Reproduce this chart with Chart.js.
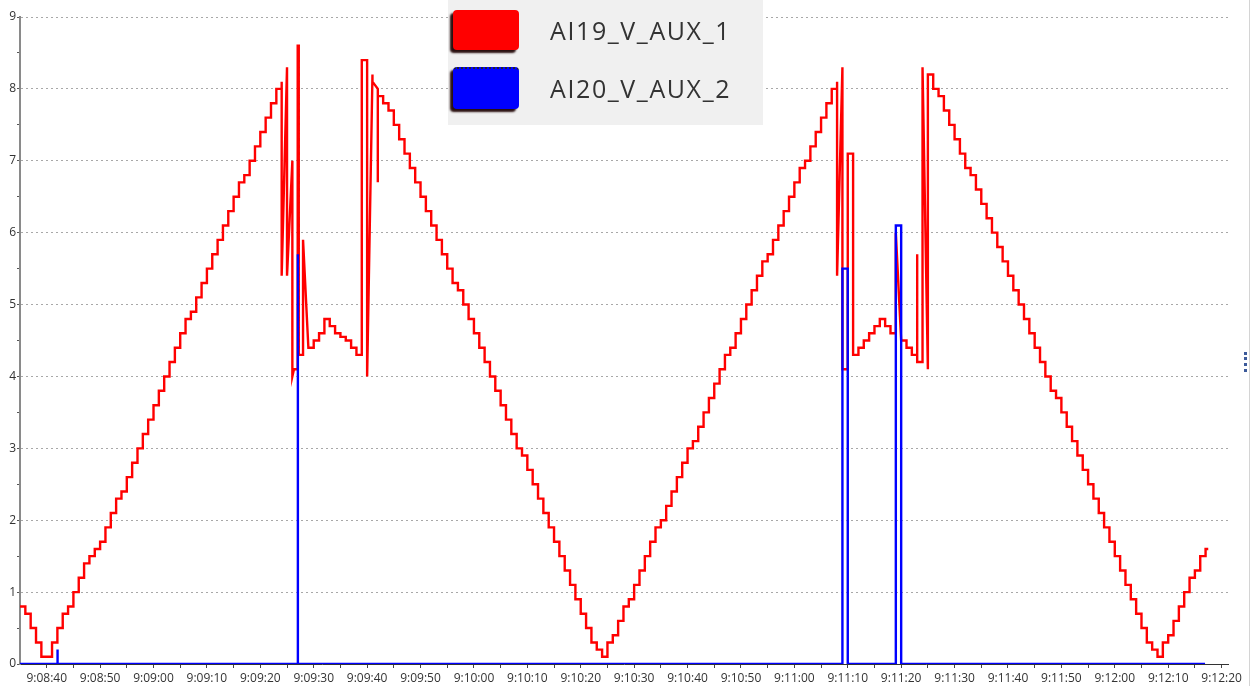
<!DOCTYPE html>
<html>
<head>
<meta charset="utf-8">
<script src="https://cdn.jsdelivr.net/npm/chart.js@4"></script>
<style>
    body { margin: 0; background: #fff; font-family: 'Open Sans', sans-serif; }
    #wrap { position: relative; width: 1253px; height: 686px; overflow: hidden; }
    #legend { position: absolute; left: 448px; top: 0; width: 315px; height: 125px; background: #f0f0f0; }
    .item { position: absolute; left: 0; height: 44px; display: flex; align-items: center; }
    .swatch { margin-left: 5px; width: 66px; height: 40px; border-radius: 4px; box-shadow: -3px 3px 2px #2a1010; }
    .label { margin-left: 31px; font-size: 25px; letter-spacing: 1.6px; color: #333; }
    #edge { position: absolute; left: 1249px; top: 0; width: 1px; height: 686px; background: #d4d4d4; }
    #grip { position: absolute; left: 1244px; top: 352px; width: 0; height: 20px; border-left: 3px dotted #3c5a9a; }
</style>
</head>
<body>
<div id="wrap">
    <canvas id="chart" width="1253" height="686"></canvas>
    <div id="legend"></div>
    <div id="edge"></div>
    <div id="grip"></div>
</div>
<script>
// time in seconds after startTime
const startTime = '9:08:35';
const axisEnd = 226.2;

// red: one sample per second from the given start
const redRise1Start = 0;
const redRise1 = [0.8, 0.7, 0.5, 0.3, 0.1, 0.1, 0.3, 0.5, 0.7, 0.8, 1.0, 1.2, 1.4, 1.5, 1.6, 1.7, 1.9,
    2.1, 2.3, 2.4, 2.6, 2.8, 3.0, 3.2, 3.4, 3.6, 3.8, 4.0, 4.2, 4.4, 4.6, 4.8, 4.9, 5.1, 5.3, 5.5,
    5.7, 5.9, 6.1, 6.3, 6.5, 6.7, 6.8, 7.0, 7.2, 7.4, 7.6, 7.8, 8.0];
// glitchy bits: [t, value] corners
const redBurst1 = [[49, 8.0], [49, 8.1], [49, 5.4], [50, 8.3], [50, 5.4], [51, 7.0], [51, 4.0], [51.3, 4.1],
    [52, 4.1], [52, 8.6], [52.2, 8.6], [52.2, 4.3], [53, 4.3], [53, 5.9], [54, 4.4]];
const redHill1Start = 55;
const redHill1 = [4.5, 4.6, 4.8, 4.7, 4.6, 4.55, 4.5, 4.4, 4.3];
const redBurst2 = [[64, 4.3], [64, 8.4], [65, 8.4], [65, 4.0], [66, 8.2], [66, 8.1], [67, 8.0], [67, 6.7], [67, 7.9]];
const redValleyStart = 68;
const redValley = [7.8, 7.7, 7.5, 7.3, 7.1, 6.9, 6.7, 6.5, 6.3, 6.1, 5.9, 5.7, 5.5, 5.3, 5.2, 5.0, 4.8, 4.6,
    4.4, 4.2, 4.0, 3.8, 3.6, 3.4, 3.2, 3.0, 2.9, 2.7, 2.5, 2.3, 2.1, 1.9, 1.7, 1.5, 1.3, 1.1, 0.9, 0.7,
    0.5, 0.3, 0.2, 0.1, 0.3, 0.4, 0.6, 0.8, 0.9, 1.1, 1.3, 1.5, 1.7, 1.9, 2.0, 2.2, 2.4, 2.6, 2.8, 3.0,
    3.1, 3.3, 3.5, 3.7, 3.9, 4.1, 4.3, 4.4, 4.6, 4.8, 5.0, 5.2, 5.4, 5.6, 5.7, 5.9, 6.1, 6.3, 6.5, 6.7,
    6.9, 7.0, 7.2, 7.4, 7.6, 7.8, 8.0];
const redBurst3 = [[153, 8.0], [153, 8.1], [153, 5.4], [154, 8.3], [154, 4.1], [155, 4.1], [155, 7.1], [156, 7.1], [156, 4.3]];
const redHill2Start = 157;
const redHill2 = [4.4, 4.5, 4.6, 4.7, 4.8, 4.7, 4.6];
const redBurst4 = [[164, 4.6], [164, 6.0], [165, 4.5], [166, 4.5], [166, 4.4], [167, 4.4], [167, 4.3], [168, 4.3],
    [168, 5.7], [168, 4.2], [169, 4.2], [169, 8.3], [170, 4.1], [170, 8.2]];
const redFallStart = 171;
const redFall = [8.0, 7.9, 7.7, 7.5, 7.3, 7.1, 6.9, 6.8, 6.6, 6.4, 6.2, 6.0, 5.8, 5.6, 5.4, 5.2, 5.0, 4.8,
    4.6, 4.4, 4.2, 4.0, 3.8, 3.7, 3.5, 3.3, 3.1, 2.9, 2.7, 2.5, 2.3, 2.1, 1.9, 1.7, 1.5, 1.3, 1.1, 0.9,
    0.7, 0.5, 0.3, 0.2, 0.1, 0.3, 0.4, 0.6, 0.8, 1.0, 1.2, 1.3, 1.5, 1.6];
const redEnd = 222.5;

// blue: flat at 0 with a few pulses [from, to, value]
const blueSpan = [0, 221.9];
const bluePulses = [[7, 7.05, 0.2], [52, 52.05, 5.7], [154, 155, 5.5], [164, 165, 6.1]];

const yTicks = [0, 0.5, 1, 1.5, 2, 2.5, 3, 3.5, 4, 4.5, 5, 5.5, 6, 6.5, 7, 7.5, 8, 8.5, 9];

const hms = s => s.split(':').map(Number).reduce((a, b) => a * 60 + b, 0);
const t0 = hms(startTime);
const clock = sec => {
    const s = t0 + sec;
    const h = Math.floor(s / 3600), m = Math.floor(s / 60) % 60, ss = s % 60;
    return h + ':' + String(m).padStart(2, '0') + ':' + String(ss).padStart(2, '0');
};

// sample-and-hold: keep the previous value until the next sample
const addSteps = (pts, start, values) => {
    values.forEach((v, i) => {
        if (pts.length) pts.push({ x: start + i, y: pts[pts.length - 1].y });
        pts.push({ x: start + i, y: v });
    });
};
const addCorners = (pts, corners) => corners.forEach(([x, y]) => pts.push({ x, y }));

const redPoints = [];
addSteps(redPoints, redRise1Start, redRise1);
addCorners(redPoints, redBurst1);
addSteps(redPoints, redHill1Start, redHill1);
addCorners(redPoints, redBurst2);
addSteps(redPoints, redValleyStart, redValley);
addCorners(redPoints, redBurst3);
addSteps(redPoints, redHill2Start, redHill2);
addCorners(redPoints, redBurst4);
addSteps(redPoints, redFallStart, redFall);
redPoints.push({ x: redEnd, y: redPoints[redPoints.length - 1].y });

const bluePoints = [{ x: blueSpan[0], y: 0 }];
bluePulses.forEach(([a, b, v]) => {
    bluePoints.push({ x: a, y: 0 }, { x: a, y: v }, { x: b, y: v }, { x: b, y: 0 });
});
bluePoints.push({ x: blueSpan[1], y: 0 });

const xTicks = [];
for (let s = 5; s <= 225; s += 5) xTicks.push(s);

Chart.defaults.font.family = "'Open Sans', sans-serif";
Chart.defaults.font.size = 12;
Chart.defaults.color = '#333';

const chart = new Chart(document.getElementById('chart').getContext('2d'), {
    type: 'line',
    data: {
        datasets: [
            { label: 'AI19_V_AUX_1', data: redPoints, borderColor: '#ff0000', borderWidth: 2.4, pointRadius: 0, order: 1 },
            { label: 'AI20_V_AUX_2', data: bluePoints, borderColor: '#0000ff', borderWidth: 2.4, pointRadius: 0, order: 0 }
        ]
    },
    options: {
        responsive: false,
        animation: false,
        layout: { padding: { top: 17, right: 25, left: 0, bottom: 0 } },
        plugins: { legend: { display: false }, tooltip: { enabled: false } },
        scales: {
            x: {
                type: 'linear',
                min: 0,
                max: axisEnd,
                afterBuildTicks: scale => { scale.ticks = xTicks.map(value => ({ value })); },
                afterFit: scale => { scale.height = 22; scale.paddingLeft = 0; scale.paddingRight = 0; },
                ticks: {
                    autoSkip: false,
                    maxRotation: 0,
                    padding: 3,
                    callback: value => ((value - 5) % 10 === 0 ? clock(value) : '')
                },
                grid: { drawOnChartArea: false, tickLength: 4, tickColor: '#444' },
                border: { color: '#333', width: 1 }
            },
            y: {
                min: 0,
                max: 9,
                afterBuildTicks: scale => { scale.ticks = yTicks.map(value => ({ value })); },
                afterFit: scale => { scale.width = 20; scale.paddingTop = 0; scale.paddingBottom = 0; },
                ticks: {
                    padding: 1,
                    callback: value => (Number.isInteger(value) ? value : '')
                },
                grid: {
                    color: ctx => (ctx.tick && Number.isInteger(ctx.tick.value) && ctx.tick.value > 0 ? '#a8a8a8' : 'rgba(0,0,0,0)'),
                    tickLength: 3,
                    tickColor: '#555'
                },
                border: { color: '#8a8a8a', width: 2, dash: [2, 3] }
            }
        }
    }
});

// legend box drawn from the datasets
const legend = document.getElementById('legend');
chart.data.datasets.forEach((ds, i) => {
    const item = document.createElement('div');
    item.className = 'item';
    item.style.top = (8 + i * 58) + 'px';
    const sw = document.createElement('div');
    sw.className = 'swatch';
    sw.style.background = ds.borderColor;
    if (i === 1) sw.style.borderTop = '2px dotted #223';
    const tx = document.createElement('span');
    tx.className = 'label';
    tx.textContent = ds.label;
    item.appendChild(sw);
    item.appendChild(tx);
    legend.appendChild(item);
});
</script>
</body>
</html>
